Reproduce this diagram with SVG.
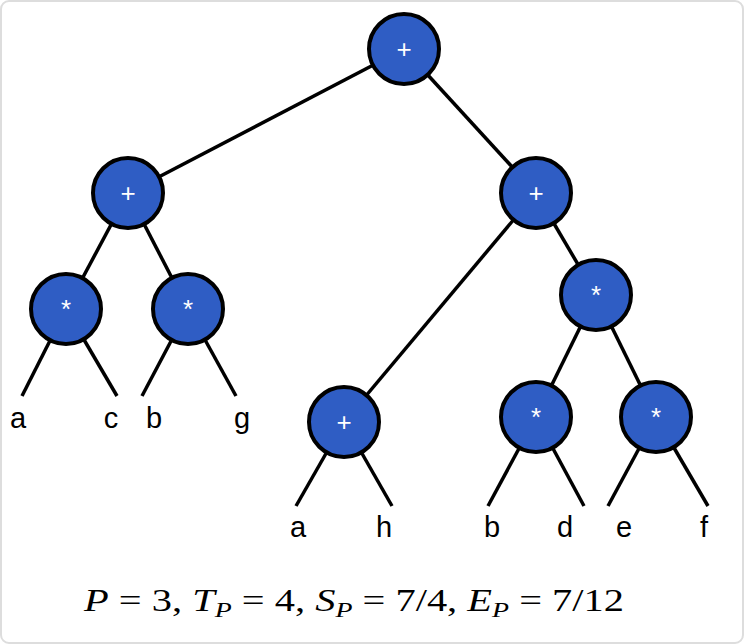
<svg xmlns="http://www.w3.org/2000/svg" width="744" height="644" viewBox="0 0 744 644">
<style>
.n{fill:#2F5DC4;stroke:#000;stroke-width:4}
.o{fill:#fff;font-family:"Liberation Sans",sans-serif;font-size:26px;text-anchor:middle}
.l{font-family:"Liberation Sans",sans-serif;font-size:29px;text-anchor:middle;fill:#000}
#edges line{stroke:#000;stroke-width:3.5}
.f{font-family:"Liberation Serif",serif;font-size:32px;fill:#000}
</style>
<rect x="1" y="1" width="742" height="642" rx="8" fill="#fff" stroke="#ddd" stroke-width="2"/>
<g id="edges">
<line x1="404" y1="49" x2="128" y2="193"/>
<line x1="404" y1="49" x2="536" y2="193"/>
<line x1="128" y1="193" x2="66" y2="309"/>
<line x1="128" y1="193" x2="188" y2="309"/>
<line x1="536" y1="193" x2="596" y2="295"/>
<line x1="536" y1="193" x2="344" y2="422"/>
<line x1="596" y1="295" x2="536" y2="417"/>
<line x1="596" y1="295" x2="656" y2="417"/>
<line x1="66" y1="309" x2="22" y2="396"/>
<line x1="66" y1="309" x2="117" y2="396"/>
<line x1="188" y1="309" x2="142" y2="396"/>
<line x1="188" y1="309" x2="236" y2="396"/>
<line x1="344" y1="422" x2="296" y2="506"/>
<line x1="344" y1="422" x2="392" y2="506"/>
<line x1="536" y1="417" x2="488" y2="506"/>
<line x1="536" y1="417" x2="584" y2="506"/>
<line x1="656" y1="417" x2="608" y2="506"/>
<line x1="656" y1="417" x2="708" y2="506"/>
</g>
<g id="n1"><circle class="n" cx="404" cy="49" r="35"/><text class="o" x="404" y="58">+</text></g>
<g id="n2"><circle class="n" cx="128" cy="193" r="35"/><text class="o" x="128" y="202">+</text></g>
<g id="n3"><circle class="n" cx="536" cy="193" r="35"/><text class="o" x="536" y="202">+</text></g>
<g id="n4"><circle class="n" cx="66" cy="309" r="35"/><text class="o" x="66" y="318">*</text></g>
<g id="n5"><circle class="n" cx="188" cy="309" r="35"/><text class="o" x="188" y="318">*</text></g>
<g id="n6"><circle class="n" cx="596" cy="295" r="35"/><text class="o" x="596" y="304">*</text></g>
<g id="n7"><circle class="n" cx="344" cy="422" r="35"/><text class="o" x="344" y="431">+</text></g>
<g id="n8"><circle class="n" cx="536" cy="417" r="35"/><text class="o" x="536" y="426">*</text></g>
<g id="n9"><circle class="n" cx="656" cy="417" r="35"/><text class="o" x="656" y="426">*</text></g>
<g id="leaves">
<text class="l" x="18" y="428">a</text><text class="l" x="111" y="428">c</text>
<text class="l" x="154" y="428">b</text><text class="l" x="242" y="428">g</text>
<text class="l" x="298" y="537">a</text><text class="l" x="384" y="537">h</text>
<text class="l" x="492" y="537">b</text><text class="l" x="565" y="537">d</text>
<text class="l" x="624" y="537">e</text><text class="l" x="704" y="537">f</text>
</g>
<text class="f" x="84" y="611" textLength="540" lengthAdjust="spacingAndGlyphs"><tspan font-style="italic">P</tspan> = 3, <tspan font-style="italic">T</tspan><tspan font-style="italic" font-size="22" dy="6">P</tspan><tspan dy="-6"> = 4, </tspan><tspan font-style="italic">S</tspan><tspan font-style="italic" font-size="22" dy="6">P</tspan><tspan dy="-6"> = 7/4, </tspan><tspan font-style="italic">E</tspan><tspan font-style="italic" font-size="22" dy="6">P</tspan><tspan dy="-6"> = 7/12</tspan></text>
</svg>
